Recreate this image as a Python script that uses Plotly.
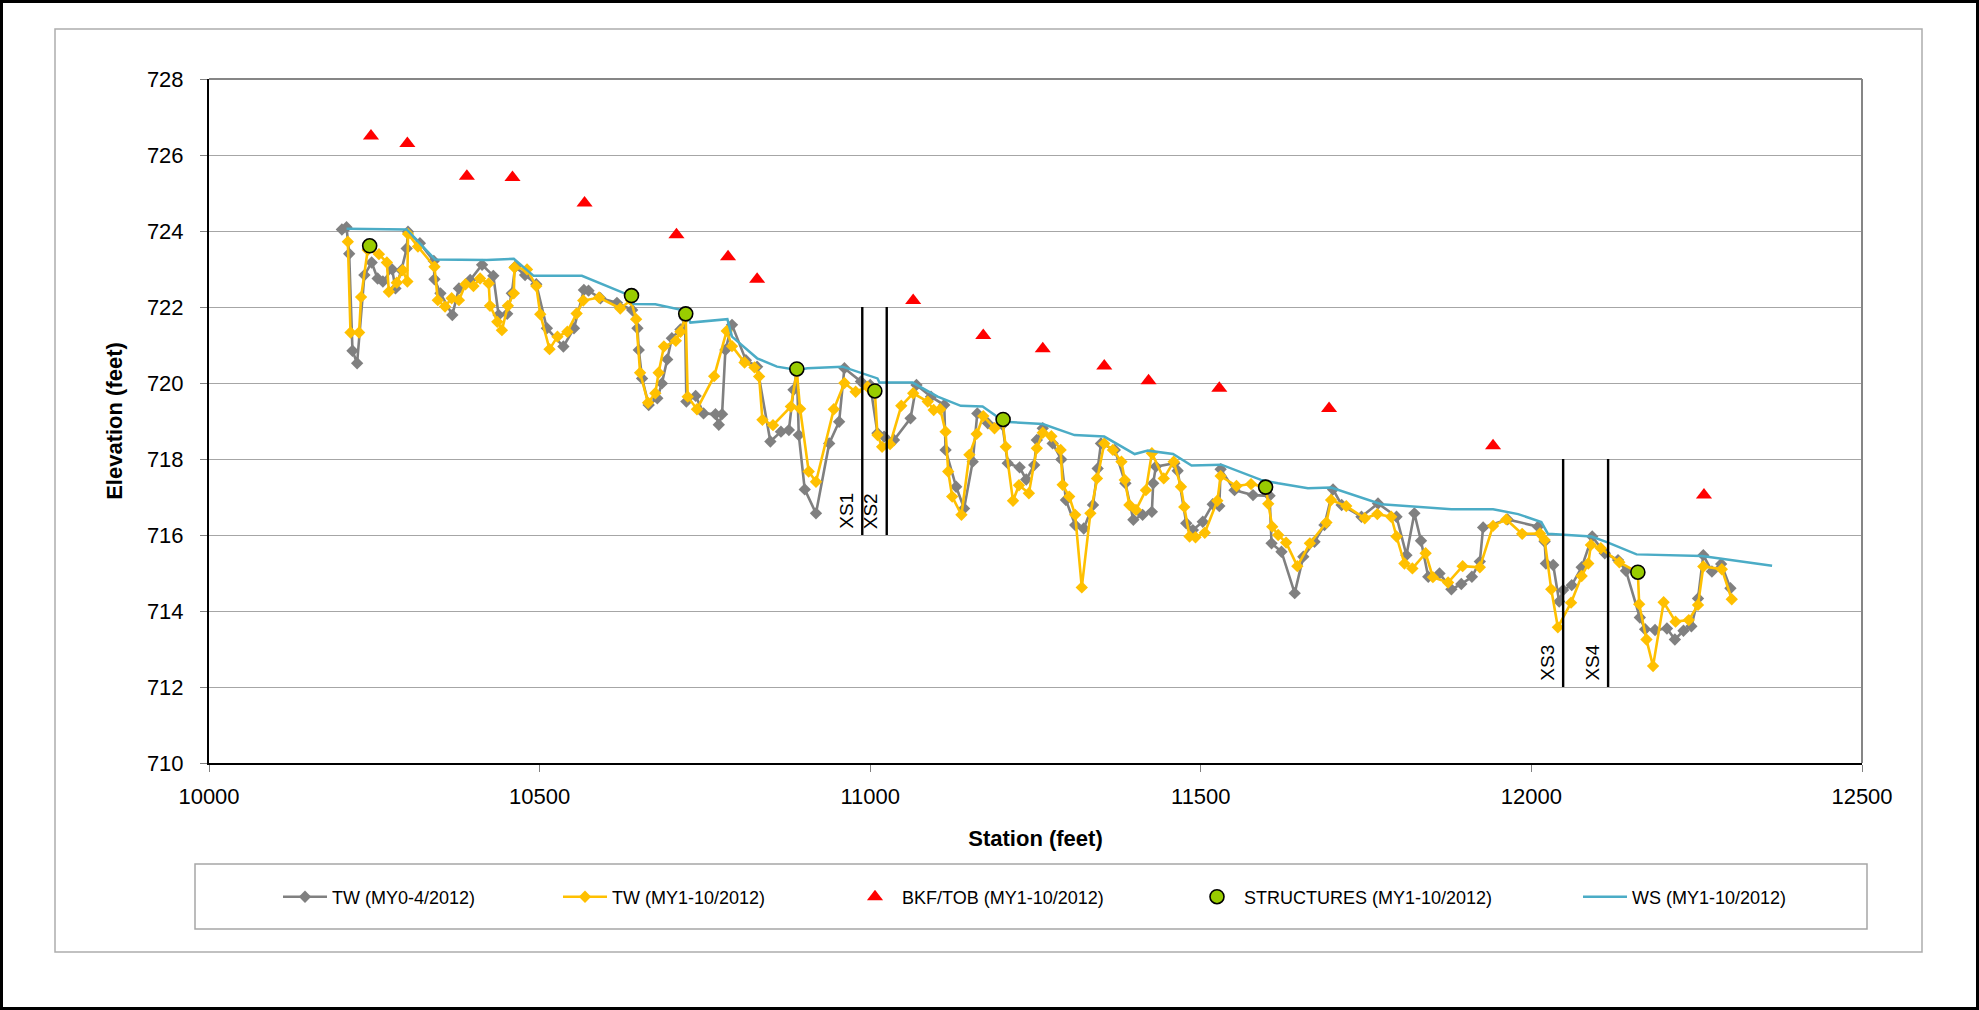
import plotly.graph_objects as go

# ---------------- data ----------------
# Thalweg, MY0 survey (April 2012)
tw0_station = [10201, 10208, 10212, 10217, 10224, 10235, 10246, 10255, 10263, 10277, 10282, 10291, 10299, 10301,
               10319, 10340, 10341, 10350, 10368, 10378, 10395, 10413, 10430, 10438, 10451, 10458, 10463, 10478,
               10495, 10511, 10536, 10552, 10567, 10574, 10592, 10617, 10640, 10648, 10650, 10655, 10665, 10678,
               10685, 10693, 10700, 10713, 10720, 10722, 10736, 10748, 10766, 10771, 10776, 10781, 10791, 10812,
               10829, 10849, 10865, 10877, 10884, 10889, 10892, 10901, 10918, 10938, 10953, 10961, 10986, 11000,
               11011, 11021, 11036, 11061, 11070, 11092, 11112, 11114, 11130, 11142, 11155, 11162, 11178, 11200,
               11208, 11226, 11236, 11248, 11252, 11261, 11276, 11289, 11296, 11310, 11323, 11337, 11344, 11349,
               11370, 11386, 11398, 11412, 11426, 11428, 11432, 11460, 11465, 11478, 11488, 11503, 11518, 11528,
               11530, 11551, 11579, 11604, 11607, 11622, 11642, 11655, 11672, 11687, 11700, 11713, 11743, 11768,
               11796, 11811, 11823, 11833, 11844, 11861, 11879, 11894, 11910, 11922, 11927, 11964, 12010, 12020,
               12022, 12033, 12042, 12048, 12061, 12076, 12092, 12111, 12131, 12143, 12164, 12172, 12187, 12205,
               12217, 12230, 12242, 12252, 12260, 12273, 12287, 12301]
tw0_elev = [724.04, 724.10, 723.40, 720.85, 720.52, 722.84, 723.17, 722.75, 722.67, 722.99, 722.49, 722.97, 723.54, 723.98,
            723.68, 723.21, 722.73, 722.36, 721.79, 722.49, 722.71, 723.11, 722.82, 721.79, 721.82, 722.36, 723.06, 722.84,
            722.60, 721.44, 720.96, 721.44, 722.45, 722.43, 722.23, 722.11, 721.92, 721.44, 720.87, 720.12, 719.42, 719.60,
            719.99, 720.62, 721.18, 721.41, 721.70, 719.51, 719.66, 719.20, 719.18, 718.90, 719.18, 720.87, 721.53, 720.60,
            720.43, 718.46, 718.72, 718.76, 719.82, 720.30, 718.63, 717.20, 716.57, 718.41, 718.98, 720.39, 720.04, 719.95,
            718.68, 718.59, 718.50, 719.07, 719.95, 719.64, 719.42, 718.24, 717.27, 716.70, 717.93, 719.20, 718.94, 718.90,
            717.89, 717.78, 717.46, 717.84, 718.50, 718.81, 718.41, 717.99, 716.92, 716.26, 716.17, 716.79, 717.75, 718.41,
            718.24, 717.36, 716.40, 716.53, 716.61, 717.36, 717.80, 717.89, 717.69, 716.31, 716.13, 716.35, 716.81, 716.76,
            717.73, 717.18, 717.05, 717.03, 715.78, 715.56, 714.47, 715.43, 715.82, 716.26, 717.20, 716.79, 716.48, 716.83,
            716.48, 715.47, 716.57, 715.85, 714.90, 714.99, 714.57, 714.71, 714.90, 715.30, 716.20, 716.41, 716.22, 715.83,
            715.25, 715.21, 714.25, 714.55, 714.68, 715.15, 715.96, 715.52, 715.34, 715.06, 713.83, 713.52, 713.50, 713.54,
            713.25, 713.48, 713.60, 714.33, 715.47, 715.04, 715.24, 714.60]

# Thalweg, MY1 survey (October 2012)
tw1_station = [10210, 10214, 10227, 10230, 10240, 10257, 10269, 10272, 10284, 10293, 10300, 10301, 10316, 10341,
               10346, 10357, 10367, 10378, 10388, 10400, 10410, 10423, 10425, 10436, 10443, 10452, 10461, 10462,
               10481, 10495, 10501, 10515, 10527, 10542, 10556, 10566, 10590, 10622, 10638, 10646, 10652, 10664,
               10675, 10680, 10688, 10706, 10713, 10721, 10724, 10738, 10764, 10783, 10791, 10810, 10825, 10832,
               10837, 10853, 10880, 10889, 10894, 10907, 10918, 10945, 10961, 10978, 10996, 11007, 11011, 11018,
               11030, 11047, 11065, 11087, 11096, 11106, 11114, 11118, 11124, 11138, 11150, 11161, 11171, 11188,
               11200, 11205, 11216, 11225, 11240, 11252, 11261, 11274, 11288, 11291, 11301, 11310, 11320, 11333,
               11343, 11354, 11367, 11380, 11385, 11392, 11402, 11417, 11426, 11444, 11459, 11470, 11475, 11483,
               11492, 11506, 11525, 11530, 11554, 11576, 11598, 11602, 11608, 11617, 11629, 11646, 11665, 11690,
               11697, 11720, 11748, 11767, 11788, 11796, 11808, 11820, 11840, 11851, 11874, 11896, 11922, 11942,
               11962, 11986, 12013, 12020, 12030, 12040, 12060, 12076, 12086, 12090, 12105, 12133, 12161, 12163,
               12174, 12184, 12200, 12218, 12238, 12252, 12260, 12288, 12303]
tw1_elev = [723.72, 721.33, 721.33, 722.26, 723.50, 723.39, 723.17, 722.40, 722.64, 722.97, 722.67, 723.92, 723.59, 723.06,
            722.18, 722.01, 722.23, 722.18, 722.60, 722.55, 722.75, 722.62, 722.03, 721.61, 721.39, 722.03, 722.36, 723.04,
            722.99, 722.55, 721.81, 720.89, 721.22, 721.35, 721.83, 722.17, 722.25, 721.96, 722.18, 721.68, 720.27, 719.48,
            719.73, 720.27, 720.96, 721.11, 721.35, 721.75, 719.64, 719.31, 720.18, 721.37, 720.97, 720.54, 720.41, 720.17,
            719.03, 718.89, 719.38, 720.30, 719.32, 717.67, 717.40, 719.31, 720.00, 719.77, 719.90, 719.79, 718.63, 718.32,
            718.39, 719.40, 719.73, 719.51, 719.29, 719.31, 718.72, 717.67, 717.01, 716.53, 718.11, 718.66, 719.13, 718.81,
            719.00, 718.32, 716.90, 717.31, 717.10, 718.28, 718.69, 718.60, 718.24, 717.32, 717.01, 716.53, 714.62, 716.57,
            717.49, 718.41, 718.24, 717.93, 717.45, 716.79, 716.66, 717.18, 718.15, 717.49, 717.93, 717.27, 716.74, 715.96,
            715.94, 716.06, 716.90, 717.55, 717.29, 717.34, 717.26, 716.82, 716.22, 716.00, 715.80, 715.18, 715.78, 716.33,
            716.92, 716.76, 716.44, 716.55, 716.48, 715.96, 715.25, 715.12, 715.52, 714.89, 714.75, 715.18, 715.15, 716.24,
            716.41, 716.03, 716.04, 715.87, 714.57, 713.57, 714.22, 714.92, 715.25, 715.74, 715.65, 715.28, 715.02, 714.18,
            713.25, 712.55, 714.23, 713.72, 713.76, 714.16, 715.17, 715.10, 714.31]

# Bankfull / top of bank
bkf_station = [10245, 10300, 10390, 10459, 10568, 10707, 10785, 10829, 11065, 11171, 11261, 11354, 11421, 11528,
               11694, 11942, 12261]
bkf_elev = [726.50, 726.30, 725.44, 725.41, 724.74, 723.90, 723.32, 722.73, 722.17, 721.25, 720.90, 720.45, 720.06,
            719.86, 719.33, 718.35, 717.05]

# In-stream structures
str_station = [10243, 10639, 10721, 10889, 11007, 11201, 11598, 12161]
str_elev = [723.61, 722.30, 721.82, 720.37, 719.79, 719.04, 717.26, 715.02]

# Water surface
ws_station = [10208, 10299, 10342, 10420, 10461, 10491, 10564, 10637, 10642, 10675, 10721, 10728, 10784, 10791,
              10829, 10859, 10890, 10905, 10958, 11011, 11014, 11064, 11102, 11137, 11170, 11203, 11261, 11309,
              11354, 11400, 11420, 11458, 11486, 11531, 11591, 11617, 11662, 11697, 11773, 11819, 11879, 11942,
              11980, 12015, 12025, 12091, 12116, 12159, 12258, 12364]
ws_elev = [724.06, 724.04, 723.25, 723.24, 723.27, 722.82, 722.82, 722.30, 722.08, 722.07, 721.90, 721.59, 721.68, 721.22,
           720.65, 720.43, 720.34, 720.39, 720.43, 720.12, 720.01, 720.01, 719.64, 719.40, 719.38, 718.98, 718.92, 718.63,
           718.59, 718.13, 718.22, 718.13, 717.83, 717.85, 717.45, 717.36, 717.23, 717.25, 716.81, 716.75, 716.68, 716.68,
           716.55, 716.34, 716.03, 715.96, 715.80, 715.49, 715.45, 715.19]

# Cross-section locations
xs_names = ["XS1", "XS2", "XS3", "XS4"]
xs_station = [10988, 11025, 12048, 12116]
xs_low = [716, 716, 712, 712]
xs_high = [722, 722, 718, 718]

x_ticks = [10000, 10500, 11000, 11500, 12000, 12500]
y_ticks = [710, 712, 714, 716, 718, 720, 722, 724, 726, 728]

# ---------------- layout geometry (pixels) ----------------
W, H = 1979, 1010
L, R, T, B = 209, 1862, 79, 763


def px(xp):
    return (xp - L) / (R - L)


def py(yp):
    return (B - yp) / (B - T)


FONT = "Liberation Sans, Arial, sans-serif"

fig = go.Figure()

fig.add_trace(go.Scatter(
    x=tw0_station, y=tw0_elev, mode="lines+markers", name="TW (MY0-4/2012)",
    line=dict(color="#808080", width=2.6),
    marker=dict(symbol="diamond", size=9.5, color="#808080"),
    legend="legend"))
fig.add_trace(go.Scatter(
    x=tw1_station, y=tw1_elev, mode="lines+markers", name="TW (MY1-10/2012)",
    line=dict(color="#FFC000", width=2.6),
    marker=dict(symbol="diamond", size=9.5, color="#FFC000"),
    legend="legend2"))
fig.add_trace(go.Scatter(
    x=bkf_station, y=bkf_elev, mode="markers", name="BKF/TOB (MY1-10/2012)",
    marker=dict(symbol="triangle-up", size=14, color="#FF0000"),
    legend="legend3"))
fig.add_trace(go.Scatter(
    x=ws_station, y=ws_elev, mode="lines", name="WS (MY1-10/2012)",
    line=dict(color="#4BACC6", width=2.5),
    legend="legend5"))
fig.add_trace(go.Scatter(
    x=str_station, y=str_elev, mode="markers", name="STRUCTURES (MY1-10/2012)",
    marker=dict(symbol="circle", size=14, color="#99CC00", line=dict(color="#000000", width=1.6)),
    legend="legend4"))

shapes = []
annotations = []

# cross-section marker lines and labels
for name, xs, lo, hi in zip(xs_names, xs_station, xs_low, xs_high):
    shapes.append(dict(type="line", xref="x", yref="y", x0=xs, x1=xs, y0=lo, y1=hi,
                       line=dict(color="#000000", width=2.4)))
    annotations.append(dict(x=xs, y=lo, xref="x", yref="y", text=name, showarrow=False,
                            textangle=-90, xanchor="right", yanchor="bottom", xshift=-4, yshift=4,
                            font=dict(family=FONT, size=19, color="#000000")))

# plot-area top / right edges
shapes.append(dict(type="line", xref="paper", yref="paper", x0=0, x1=1, y0=1, y1=1,
                   line=dict(color="#868686", width=2)))
shapes.append(dict(type="line", xref="paper", yref="paper", x0=1, x1=1, y0=0, y1=1,
                   line=dict(color="#868686", width=2)))

# legend frame
shapes.append(dict(type="rect", xref="paper", yref="paper",
                   x0=px(195), x1=px(1867), y0=py(929), y1=py(864),
                   line=dict(color="#A6A6A6", width=1.5), layer="below"))
# chart-area frame
shapes.append(dict(type="rect", xref="paper", yref="paper",
                   x0=px(55), x1=px(1922), y0=py(952), y1=py(29),
                   line=dict(color="#ADADAD", width=1.5), layer="below"))
# outer frame
shapes.append(dict(type="rect", xref="paper", yref="paper",
                   x0=px(1.5), x1=px(W - 1.5), y0=py(H - 1.5), y1=py(1.5),
                   line=dict(color="#000000", width=3), layer="below"))

# one legend box per series, spread along the bottom
legend_common = dict(orientation="h", xanchor="left", yanchor="middle", y=py(897),
                     bgcolor="rgba(0,0,0,0)", borderwidth=0, itemwidth=44,
                     font=dict(family=FONT, size=18, color="#000000"))
legend_text_start = {"legend": 332, "legend2": 612, "legend3": 902, "legend4": 1244, "legend5": 1632}
legend_layout = {}
for key, xs in legend_text_start.items():
    legend_layout[key] = dict(legend_common, x=px(xs - 54))

fig.update_layout(
    width=W, height=H,
    margin=dict(l=L, r=W - R, t=T, b=H - B, autoexpand=False),
    paper_bgcolor="#FFFFFF", plot_bgcolor="#FFFFFF",
    showlegend=True,
    shapes=shapes, annotations=annotations,
    **legend_layout,
)

fig.update_xaxes(
    range=[10000, 12500], tickvals=x_ticks, ticktext=[str(v) for v in x_ticks],
    showgrid=False, zeroline=False,
    showline=True, linecolor="#000000", linewidth=2,
    ticks="outside", ticklen=7, tickwidth=1, tickcolor="#808080",
    tickfont=dict(family=FONT, size=22, color="#000000"), ticklabelstandoff=6,
    title=dict(text="<b>Station (feet)</b>", font=dict(family=FONT, size=22, color="#000000"), standoff=22),
)
fig.update_yaxes(
    range=[710, 728], tickvals=y_ticks, ticktext=[str(v) for v in y_ticks],
    showgrid=True, gridcolor="#A6A6A6", gridwidth=1, zeroline=False,
    showline=True, linecolor="#000000", linewidth=2,
    ticks="outside", ticklen=7, tickwidth=1, tickcolor="#808080",
    tickfont=dict(family=FONT, size=22, color="#000000"), ticklabelstandoff=12,
    title=dict(text="<b>Elevation (feet)</b>", font=dict(family=FONT, size=22, color="#000000"), standoff=18),
)

fig.write_html("out.html")
